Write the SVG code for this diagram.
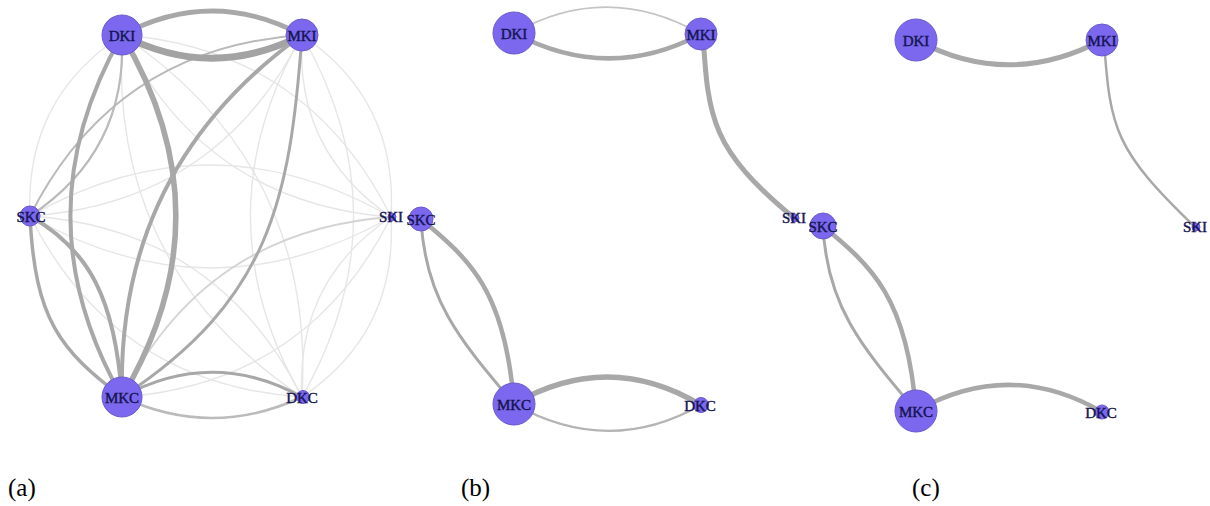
<svg xmlns="http://www.w3.org/2000/svg" width="1210" height="506" viewBox="0 0 1210 506">
<style>
.e{fill:none;stroke-linecap:round}
.h{stroke:#a8a8a8}
.m{stroke:#bababa}
.f{stroke:#e6e6e6;stroke-width:1.4}
.n{fill:#7b68ee;stroke:#6a5acd;stroke-width:1}
.l{font-family:"Liberation Serif","Times New Roman",serif;font-size:15px;fill:#141450;stroke:#141450;stroke-width:0.4;text-anchor:middle;dominant-baseline:central}
.p{font-family:"Liberation Serif","Times New Roman",serif;font-size:25px;fill:#000}
</style>
<rect width="1210" height="506" fill="#fff"/>
<g id="connectors">
<path class="e f" d="M122,35 C56.9,77.8 26.3,138.2 30,216"/>
<path class="e f" d="M122,35 C177.1,146.8 266.7,207.4 391,217"/>
<path class="e f" d="M122,35 C246.3,44.6 335.9,105.2 391,217"/>
<path class="e f" d="M122,35 C113.2,189.9 173.2,310.5 302,397"/>
<path class="e f" d="M122,35 C250.8,121.5 310.8,242.1 302,397"/>
<path class="e f" d="M302,35 C245.7,147 155.1,207.4 30,216"/>
<path class="e f" d="M302,35 C297.1,112.6 326.7,173.2 391,217"/>
<path class="e f" d="M302,35 C366.3,78.8 395.9,139.4 391,217"/>
<path class="e f" d="M302,35 C233.2,155.7 233.2,276.3 302,397"/>
<path class="e f" d="M302,35 C370.8,155.7 370.8,276.3 302,397"/>
<path class="e f" d="M30,216 C150.5,147.7 270.9,148.1 391,217"/>
<path class="e f" d="M30,216 C150.1,284.9 270.5,285.3 391,217"/>
<path class="e f" d="M30,216 C86.3,328 176.9,388.4 302,397"/>
<path class="e f" d="M30,216 C155.1,224.6 245.7,285 302,397"/>
<path class="e f" d="M391,217 C335.5,328.1 245.9,388.1 122,397"/>
<path class="e f" d="M391,217 C327.1,260.1 297.5,320.1 302,397"/>
<path class="e f" d="M391,217 C395.5,293.9 365.9,353.9 302,397"/>
<path class="e" stroke="#d4d4d4" stroke-width="1.8" d="M391,217 C267.1,225.9 177.5,285.9 122,397"/>
<path class="e m" stroke-width="2.2" d="M122,35 C125.7,112.8 95.1,173.2 30,216"/>
<path class="e m" stroke-width="2" d="M302,35 C176.9,43.6 86.3,104 30,216"/>
<path class="e" stroke="#bbbbbb" stroke-width="2.5" d="M122,397 C182,425 242,425 302,397"/>
<path class="e h" stroke-width="5" d="M122,35 C182,3 242,3 302,35"/>
<path class="e" stroke="#a3a3a3" stroke-width="7" d="M122,35 C182,66 242,66 302,35"/>
<path class="e h" stroke-width="4" d="M122,35 C53,156 53,276 122,397"/>
<path class="e h" stroke-width="5.5" d="M122,35 C194,156 194,276 122,397"/>
<path class="e h" stroke-width="4" d="M302,35 C178,124 118,244 122,397"/>
<path class="e h" stroke-width="3" d="M302,35 C290,200 270,300 122,397"/>
<path class="e h" stroke-width="3.5" d="M30,216 C35,320 60,350 122,397"/>
<path class="e h" stroke-width="4" d="M30,216 C90,250 115,300 122,397"/>
<path class="e h" stroke-width="3" d="M122,397 C182,364 242,364 302,397"/>
<path class="e" stroke="#c4c4c4" stroke-width="1.8" d="M514,33 C576,-2 639,-1 701,34"/>
<path class="e h" stroke-width="4.5" d="M514,33 C576,66 639,67 701,34"/>
<path class="e h" stroke-width="5" d="M703,34 C708,120 712,150 794,218"/>
<path class="e h" stroke-width="4.5" d="M421,219 C470,260 505,290 514,404"/>
<path class="e h" stroke-width="3" d="M421,219 C425,300 460,340 514,404"/>
<path class="e h" stroke-width="5.5" d="M514,404 C576,368 639,368 701,405"/>
<path class="e" stroke="#b4b4b4" stroke-width="2.2" d="M514,404 C576,439 639,440 701,405"/>
<path class="e h" stroke-width="5" d="M916,40 C978,73 1040,73 1102,40"/>
<path class="e h" stroke-width="2.5" d="M1104,40 C1110,130 1115,150 1195,227"/>
<path class="e h" stroke-width="4.5" d="M823,226 C872,267 907,297 916,411"/>
<path class="e h" stroke-width="3" d="M823,226 C827,307 862,347 916,411"/>
<path class="e h" stroke-width="4.5" d="M916,411 C978,376 1040,376 1102,412"/>
</g>
<g id="a-DKI"><circle class="n" cx="122" cy="35" r="20"/><text class="l" x="122" y="36">DKI</text></g>
<g id="a-MKI"><circle class="n" cx="302" cy="35" r="16"/><text class="l" x="302" y="36">MKI</text></g>
<g id="a-SKC"><circle class="n" cx="30" cy="216" r="10"/><text class="l" x="31" y="217">SKC</text></g>
<g id="a-SKI"><circle class="n" cx="392" cy="217" r="4"/><text class="l" x="391" y="217">SKI</text></g>
<g id="a-MKC"><circle class="n" cx="122" cy="397" r="20"/><text class="l" x="122" y="398">MKC</text></g>
<g id="a-DKC"><circle class="n" cx="303" cy="397" r="6.5"/><text class="l" x="302" y="398">DKC</text></g>
<g id="b-DKI"><circle class="n" cx="514" cy="33" r="21"/><text class="l" x="514" y="34">DKI</text></g>
<g id="b-MKI"><circle class="n" cx="701" cy="34" r="16"/><text class="l" x="701" y="35">MKI</text></g>
<g id="b-SKC"><circle class="n" cx="421" cy="219" r="12"/><text class="l" x="421" y="220">SKC</text></g>
<g id="b-SKI"><circle class="n" cx="795" cy="218" r="4"/><text class="l" x="794" y="218">SKI</text></g>
<g id="b-MKC"><circle class="n" cx="514" cy="404" r="21"/><text class="l" x="514" y="405">MKC</text></g>
<g id="b-DKC"><circle class="n" cx="701" cy="405" r="7.5"/><text class="l" x="700" y="406">DKC</text></g>
<g id="c-DKI"><circle class="n" cx="916" cy="40" r="21"/><text class="l" x="916" y="41">DKI</text></g>
<g id="c-MKI"><circle class="n" cx="1102" cy="40" r="16"/><text class="l" x="1102" y="41">MKI</text></g>
<g id="c-SKC"><circle class="n" cx="823" cy="226" r="13"/><text class="l" x="823" y="227">SKC</text></g>
<g id="c-SKI"><circle class="n" cx="1196" cy="227" r="4"/><text class="l" x="1195" y="227">SKI</text></g>
<g id="c-MKC"><circle class="n" cx="916" cy="411" r="21"/><text class="l" x="916" y="412">MKC</text></g>
<g id="c-DKC"><circle class="n" cx="1102" cy="412" r="7"/><text class="l" x="1101" y="413">DKC</text></g>
<text class="p" x="8" y="496">(a)</text>
<text class="p" x="461" y="496">(b)</text>
<text class="p" x="912" y="496">(c)</text>
</svg>
